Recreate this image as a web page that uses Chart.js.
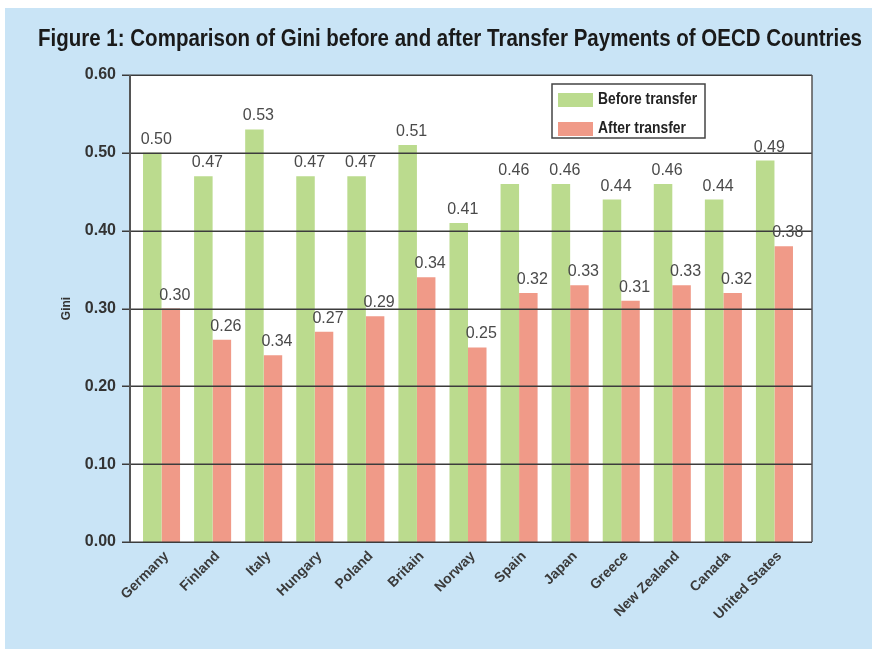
<!DOCTYPE html>
<html><head><meta charset="utf-8">
<script src="https://cdn.jsdelivr.net/npm/chart.js@4"></script>
<style>html,body{margin:0;padding:0;background:#fff;overflow:hidden;}</style>
</head><body>
<canvas id="c" width="872" height="649"></canvas>
<script>
const categories = ['Germany','Finland','Italy','Hungary','Poland','Britain','Norway','Spain','Japan','Greece','New Zealand','Canada','United States'];
const beforeTransfer = [0.50,0.47,0.53,0.47,0.47,0.51,0.41,0.46,0.46,0.44,0.46,0.44,0.49];
const afterTransfer  = [0.30,0.26,0.24,0.27,0.29,0.34,0.25,0.32,0.33,0.31,0.33,0.32,0.38];
const beforeLabels = ['0.50','0.47','0.53','0.47','0.47','0.51','0.41','0.46','0.46','0.44','0.46','0.44','0.49'];
const afterLabels  = ['0.30','0.26','0.34','0.27','0.29','0.34','0.25','0.32','0.33','0.31','0.33','0.32','0.38'];
const yTickLabels = ['0.00','0.10','0.20','0.30','0.40','0.50','0.60'];
const seriesNames = ['Before transfer','After transfer'];
const titleText = 'Figure 1: Comparison of Gini before and after Transfer Payments of OECD Countries';

const GREEN = '#bbdb8e', SALMON = '#f09a88', BLUE = '#c9e4f6';

const bgPlugin = {
  id: 'bg',
  beforeDraw(chart) {
    const {ctx, width, height} = chart;
    ctx.save();
    ctx.fillStyle = '#ffffff';
    ctx.fillRect(0, 0, width, height);
    ctx.fillStyle = BLUE;
    ctx.fillRect(5, 8, width - 5, height - 8);
    const a = chart.chartArea;
    ctx.fillStyle = '#ffffff';
    ctx.fillRect(a.left - 6, a.top, a.right - a.left + 18, a.bottom - a.top);
    ctx.restore();
  }
};

const framePlugin = {
  id: 'frame',
  afterDatasetsDraw(chart) {
    const {ctx} = chart;
    const a = chart.chartArea;
    const y = chart.scales.y;
    const L = a.left - 6, R = a.right + 12;
    ctx.save();
    ctx.strokeStyle = '#3c3c3c';
    ctx.lineWidth = 1.5;
    for (let i = 0; i < yTickLabels.length; i++) {
      const py = Math.round(y.getPixelForValue(parseFloat(yTickLabels[i]))) + 0.25;
      ctx.beginPath(); ctx.moveTo(L - 8, py); ctx.lineTo(R, py); ctx.stroke();
    }
    ctx.strokeStyle = '#555';
    ctx.lineWidth = 2;
    ctx.beginPath(); ctx.moveTo(L, a.top); ctx.lineTo(L, a.bottom); ctx.stroke();
    ctx.lineWidth = 1.5;
    ctx.beginPath(); ctx.moveTo(R, a.top); ctx.lineTo(R, a.bottom); ctx.stroke();
    ctx.restore();
  }
};

const labelPlugin = {
  id: 'vlabels',
  afterDatasetsDraw(chart) {
    const {ctx} = chart;
    const texts = [beforeLabels, afterLabels];
    ctx.save();
    ctx.font = '16px "Liberation Sans", Arial, sans-serif';
    ctx.fillStyle = '#4a4a4a';
    ctx.textAlign = 'center';
    ctx.textBaseline = 'alphabetic';
    chart.data.datasets.forEach((ds, di) => {
      const meta = chart.getDatasetMeta(di);
      meta.data.forEach((bar, i) => {
        ctx.fillText(texts[di][i], bar.x + 4, bar.y - 9);
      });
    });
    ctx.restore();
  }
};

const legendPlugin = {
  id: 'boxlegend',
  afterDraw(chart) {
    const {ctx} = chart;
    const a = chart.chartArea;
    const bx = a.right - 248, by = a.top + 9, bw = 153, bh = 54;
    ctx.save();
    ctx.fillStyle = '#fff';
    ctx.fillRect(bx, by, bw, bh);
    ctx.strokeStyle = '#444';
    ctx.lineWidth = 1.5;
    ctx.strokeRect(bx, by, bw, bh);
    ctx.font = 'bold 16px "Liberation Sans", sans-serif';
    ctx.textBaseline = 'middle';
    ctx.textAlign = 'left';
    const widths = [99, 88];
    chart.data.datasets.forEach((ds, i) => {
      const cy = by + 16 + i * 29;
      ctx.fillStyle = ds.backgroundColor;
      ctx.fillRect(bx + 6, cy - 7, 35, 14);
      ctx.fillStyle = '#222';
      ctx.fillText(ds.label, bx + 46, cy, widths[i]);
    });
    ctx.restore();
  }
};

new Chart(document.getElementById('c'), {
  type: 'bar',
  data: {
    labels: categories,
    datasets: [
      {label: seriesNames[0], data: beforeTransfer, backgroundColor: GREEN, borderWidth: 0, categoryPercentage: 0.725, barPercentage: 1},
      {label: seriesNames[1], data: afterTransfer, backgroundColor: SALMON, borderWidth: 0, categoryPercentage: 0.725, barPercentage: 1}
    ]
  },
  options: {
    responsive: false,
    animation: false,
    devicePixelRatio: 1,
    layout: {padding: {left: 38, right: 10, top: 0, bottom: 0}},
    plugins: {
      legend: {display: false},
      tooltip: {enabled: false},
      title: {
        display: true,
        text: titleText,
        color: '#1a1a1a',
        font: {family: '"Liberation Sans", sans-serif', size: 23, weight: 'bold'},
        padding: {top: 26.2, bottom: 21.2}
      }
    },
    scales: {
      x: {
        grid: {display: false, drawTicks: false},
        border: {display: false},
        ticks: {
          autoSkip: false, minRotation: 45, maxRotation: 45, padding: 6, labelOffset: 5,
          color: '#3a3a3a',
          font: {family: '"Liberation Sans", Arial, sans-serif', size: 14, weight: 'bold'}
        },
        afterFit(s) { s.height = 107; }
      },
      y: {
        min: 0, max: 0.6,
        grid: {display: false, drawTicks: false},
        border: {display: false},
        ticks: {
          stepSize: 0.1, padding: 20, color: '#333',
          font: {family: '"Liberation Sans", Arial, sans-serif', size: 16, weight: 'bold'},
          callback: (v, i) => yTickLabels[i]
        },
        title: {
          display: true, text: 'Gini', color: '#333',
          font: {family: '"Liberation Sans", Arial, sans-serif', size: 12, weight: 'bold'},
          padding: {top: 21, bottom: 0}
        },
        afterFit(s) { s.width = 98; }
      },
      yR: {
        position: 'right', display: true,
        grid: {display: false, drawTicks: false},
        border: {display: false},
        ticks: {display: false},
        afterFit(s) { s.width = 62; }
      }
    }
  },
  plugins: [bgPlugin, framePlugin, labelPlugin, legendPlugin]
});
</script>
</body></html>
